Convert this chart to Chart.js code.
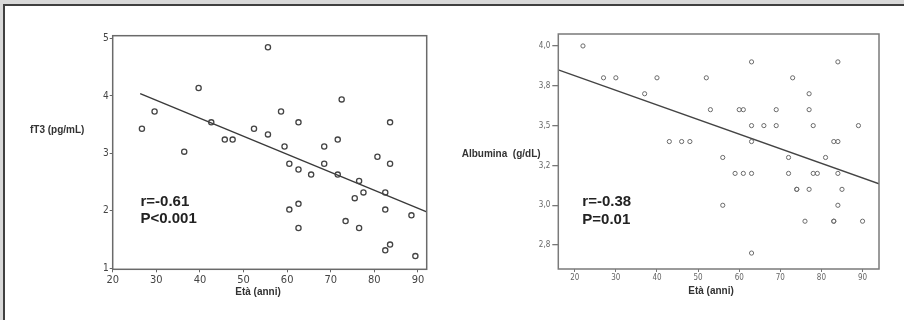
<!DOCTYPE html>
<html>
<head>
<meta charset="utf-8">
<script src="https://cdn.jsdelivr.net/npm/chart.js@4.4.0/dist/chart.umd.min.js"></script>
<style>
  html, body { margin: 0; padding: 0; }
  body { width: 904px; height: 320px; background: #d9d9d9; position: relative; overflow: hidden; }
  #panel { position: absolute; left: 3px; top: 4px; right: 0; bottom: 0; background: #fff;
           border-top: 2px solid #404040; border-left: 2px solid #404040; }
  canvas { position: absolute; }
  #chart_one { left: 4px; top: 5px; }
  #chart_two { left: 452px; top: 5px; }
</style>
</head>
<body>
<div id="panel"></div>
<canvas id="chart_one" width="448" height="315"></canvas>
<canvas id="chart_two" width="452" height="315"></canvas>
<script>
// left plot: fT3 vs age
const ageA = [26.7, 29.6, 36.4, 39.7, 42.6, 45.7, 47.5, 52.4, 55.6, 55.6, 58.6, 59.4, 60.5, 60.5,
  62.6, 62.6, 62.6, 62.6, 65.5, 68.5, 68.5, 71.6, 71.6, 72.5, 73.4, 75.5, 76.5, 76.5, 77.5,
  80.7, 82.5, 82.5, 82.5, 83.6, 83.6, 83.6, 88.5, 89.4];
const ft3 = [3.43, 3.73, 3.03, 4.14, 3.54, 3.24, 3.24, 3.43, 3.33, 4.85, 3.73, 3.12, 2.82, 2.02,
  3.54, 2.72, 2.12, 1.70, 2.63, 3.12, 2.82, 3.24, 2.63, 3.94, 1.82, 2.22, 2.52, 1.70, 2.32,
  2.94, 2.32, 2.02, 1.31, 3.54, 2.82, 1.41, 1.92, 1.21];
const fitAgeA = [26.3, 92];
const fitA = [4.04, 1.98];
const xTicksA = [20, 30, 40, 50, 60, 70, 80, 90];
const yTicksA = [1, 2, 3, 4, 5];

// right plot: albumin vs age
const ageB = [22, 63, 84, 27, 30, 40, 52, 73, 37, 77, 53, 60, 61, 69, 77, 63, 66, 69, 78, 89,
  43, 46, 48, 63, 83, 84, 56, 72, 81, 59, 61, 63, 72, 78, 79, 84, 74, 74, 77, 85, 56, 84,
  76, 83, 83, 90, 63];
const alb = [4.0, 3.9, 3.9, 3.8, 3.8, 3.8, 3.8, 3.8, 3.7, 3.7, 3.6, 3.6, 3.6, 3.6, 3.6, 3.5, 3.5,
  3.5, 3.5, 3.5, 3.4, 3.4, 3.4, 3.4, 3.4, 3.4, 3.3, 3.3, 3.3, 3.2, 3.2, 3.2, 3.2, 3.2, 3.2, 3.2,
  3.1, 3.1, 3.1, 3.1, 3.0, 3.0, 2.9, 2.9, 2.9, 2.9, 2.7];
const fitAgeB = [16, 94];
const fitB = [3.85, 3.135];
const xTicksB = [20, 30, 40, 50, 60, 70, 80, 90];
const yTicksB = [2.75, 3.0, 3.25, 3.5, 3.75, 4.0];
const yLabelsB = ['2,8', '3,0', '3,2', '3,5', '3,8', '4,0'];

const pts = (xs, ys) => xs.map((x, i) => ({ x: x, y: ys[i] }));
const SANS = "'Liberation Sans', Arial, sans-serif";
const NARROW = "'Liberation Sans Narrow', 'DejaVu Sans Condensed', " + SANS;

// frame round the plot area + free texts
const decor = {
  id: 'decor',
  afterDraw(chart, args, opts) {
    const c = chart.ctx, a = chart.chartArea;
    c.save();
    c.strokeStyle = opts.frame;
    c.lineWidth = 1.5;
    c.strokeRect(a.left, a.top, a.right - a.left, a.bottom - a.top);
    c.textBaseline = 'middle';
    opts.texts.forEach(t => {
      c.font = t.font;
      c.fillStyle = t.color || '#222';
      c.textAlign = t.align || 'left';
      c.fillText(t.text, t.x, t.y);
    });
    c.restore();
  }
};

function setTicks(list) {
  return scale => { scale.ticks = list.map(v => ({ value: v })); };
}

new Chart(document.getElementById('chart_one'), {
  type: 'scatter',
  data: {
    datasets: [{
      data: pts(ageA, ft3),
      pointStyle: 'circle',
      pointRadius: 2.6,
      borderWidth: 1.3,
      borderColor: '#444',
      backgroundColor: 'rgba(255,255,255,0)'
    }, {
      data: pts(fitAgeA, fitA),
      showLine: true,
      pointRadius: 0,
      borderWidth: 1.4,
      borderColor: '#3a3a3a'
    }]
  },
  options: {
    responsive: false,
    animation: false,
    events: [],
    layout: { padding: { top: 30.7, right: 25.3, left: 0, bottom: 0 } },
    plugins: {
      legend: { display: false },
      tooltip: { enabled: false },
      decor: {
        frame: '#6a6a6a',
        texts: [
          { text: 'fT3 (pg/mL)', x: 26, y: 125, font: 'bold 10px ' + SANS, color: '#333' },
          { text: 'Età (anni)', x: 254, y: 287, font: 'bold 10px ' + SANS, color: '#333', align: 'center' },
          { text: 'r=-0.61', x: 136.5, y: 196.7, font: 'bold 15px ' + SANS },
          { text: 'P<0.001', x: 136.5, y: 214.3, font: 'bold 15px ' + SANS }
        ]
      }
    },
    scales: {
      x: {
        type: 'linear', min: 20, max: 92,
        afterBuildTicks: setTicks(xTicksA),
        afterFit(s) { s.height = 50.7; },
        grid: { drawOnChartArea: false, tickLength: 3, color: '#666' },
        border: { display: false },
        ticks: { padding: 1, color: '#444', font: { family: NARROW, size: 11 } }
      },
      y: {
        type: 'linear', min: 0.98, max: 5.05,
        afterBuildTicks: setTicks(yTicksA),
        afterFit(s) { s.width = 108.7; },
        grid: { drawOnChartArea: false, tickLength: 3, color: '#666' },
        border: { display: false },
        ticks: { padding: 1, color: '#444', font: { family: NARROW, size: 10 } }
      }
    }
  },
  plugins: [decor]
});

new Chart(document.getElementById('chart_two'), {
  type: 'scatter',
  data: {
    datasets: [{
      data: pts(ageB, alb),
      pointStyle: 'circle',
      pointRadius: 2.1,
      borderWidth: 1,
      borderColor: '#6a6a6a',
      backgroundColor: 'rgba(255,255,255,0)'
    }, {
      data: pts(fitAgeB, fitB),
      showLine: true,
      pointRadius: 0,
      borderWidth: 1.4,
      borderColor: '#444'
    }]
  },
  options: {
    responsive: false,
    animation: false,
    events: [],
    layout: { padding: { top: 29, right: 25, left: 0, bottom: 0 } },
    plugins: {
      legend: { display: false },
      tooltip: { enabled: false },
      decor: {
        frame: '#7a7a7a',
        texts: [
          { text: 'Albumina  (g/dL)', x: 9.7, y: 149, font: 'bold 10px ' + SANS, color: '#333' },
          { text: 'Età (anni)', x: 259, y: 286, font: 'bold 10px ' + SANS, color: '#333', align: 'center' },
          { text: 'r=-0.38', x: 130.3, y: 196.7, font: 'bold 15px ' + SANS },
          { text: 'P=0.01', x: 130.3, y: 215, font: 'bold 15px ' + SANS }
        ]
      }
    },
    scales: {
      x: {
        type: 'linear', min: 16, max: 94,
        afterBuildTicks: setTicks(xTicksB),
        afterFit(s) { s.height = 51; },
        grid: { drawOnChartArea: false, tickLength: 3, color: '#777' },
        border: { display: false },
        ticks: { padding: 1, color: '#666', font: { family: NARROW, size: 8 } }
      },
      y: {
        type: 'linear', min: 2.6, max: 4.075,
        afterBuildTicks: setTicks(yTicksB),
        afterFit(s) { s.width = 106.3; },
        grid: { drawOnChartArea: false, tickLength: 6, color: '#777', lineWidth: 1.3 },
        border: { display: false },
        ticks: {
          padding: 2, color: '#666', font: { family: NARROW, size: 8 },
          callback: (v, i) => yLabelsB[i]
        }
      }
    }
  },
  plugins: [decor]
});
</script>
</body>
</html>
